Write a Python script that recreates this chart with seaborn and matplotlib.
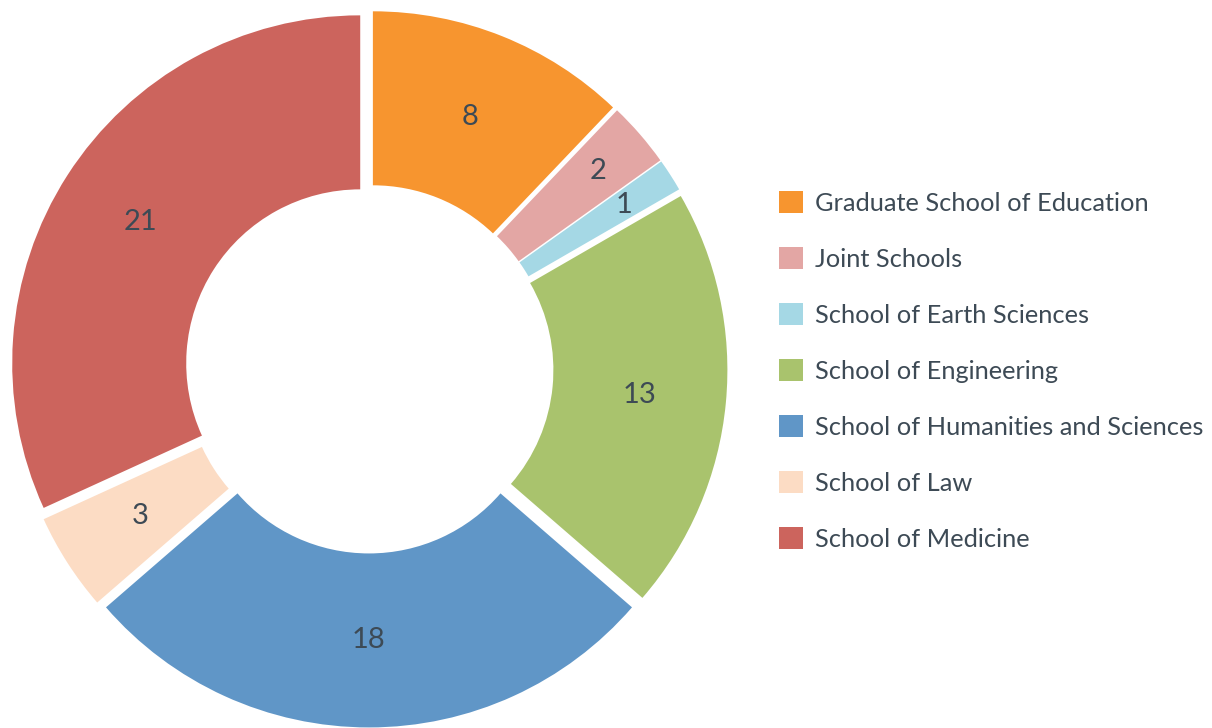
import matplotlib
matplotlib.use("Agg")
import matplotlib.pyplot as plt
from matplotlib.patches import Patch
import numpy as np
import seaborn as sns

# Data
schools = [
    "Graduate School of Education",
    "Joint Schools",
    "School of Earth Sciences",
    "School of Engineering",
    "School of Humanities and Sciences",
    "School of Law",
    "School of Medicine",
]
counts = [8, 2, 1, 13, 18, 3, 21]
colors = ["#F7952F", "#E3A6A4", "#A5D8E5", "#A9C36D", "#6096C7", "#FCDCC4", "#CC645D"]

sns.set_theme(style="white")
plt.rcParams['font.family'] = ['Lato', 'DejaVu Sans']
text_color = "#3D4A55"

W, H = 1212, 728
fig = plt.figure(figsize=(W / 100, H / 100), dpi=100)

# donut centre (px) and radius (px)
cx, cy, R = 369, 359, 348
lim = 1.05
side = 2 * lim * R
ax = fig.add_axes([(cx - side / 2) / W, (cy - side / 2) / H, side / W, side / H])

total = sum(counts)
expl = 0.03
wedges, _, autotexts = ax.pie(
    counts,
    colors=colors,
    startangle=90,
    counterclock=False,
    explode=[expl] * len(counts),
    wedgeprops=dict(width=0.5, linewidth=0),
    autopct=lambda p: f"{round(p * total / 100)}",
    pctdistance=0.75,
    textprops=dict(color=text_color, fontsize=21),
)

# thin slices: push the number a bit further out
for w, t, v in zip(wedges, autotexts, counts):
    if v < 3:
        th = np.deg2rad((w.theta1 + w.theta2) / 2)
        x0, y0 = w.center
        t.set_position((x0 + 0.84 * np.cos(th), y0 + 0.84 * np.sin(th)))

ax.set_xlim(-lim, lim)
ax.set_ylim(-lim, lim)
ax.set_aspect("equal")
ax.axis("off")

handles = [Patch(facecolor=c, edgecolor="none") for c in colors]
fig.legend(
    handles, schools,
    loc="center left",
    bbox_to_anchor=(779 / W, 1 - 371 / H),
    frameon=False,
    fontsize=18.3,
    labelcolor=text_color,
    handlelength=0.95,
    handleheight=0.95,
    handletextpad=0.45,
    labelspacing=1.27,
    borderpad=0,
    borderaxespad=0,
)

plt.savefig("out.png", dpi=100)
